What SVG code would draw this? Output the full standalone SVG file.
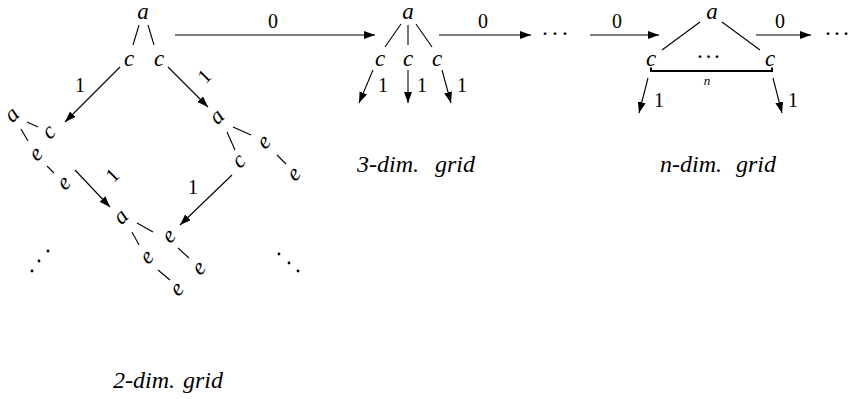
<svg xmlns="http://www.w3.org/2000/svg" width="851" height="399" viewBox="0 0 851 399" font-family="Liberation Serif, serif">
<style>
.m{font-style:italic;font-size:23px;fill:#000;text-anchor:middle}
.d{font-size:20px;fill:#000;text-anchor:middle}
.cap{font-style:italic;font-size:24px;fill:#000}
.dot{font-size:24px;fill:#000}
.sm{font-style:italic;font-size:13px;fill:#000;text-anchor:middle}
line{stroke:#000;stroke-width:1.1}
.a{marker-end:url(#ah)}
</style>
<defs>
<marker id="ah" markerUnits="userSpaceOnUse" markerWidth="12" markerHeight="9" refX="11" refY="4" orient="auto">
<path d="M0,0 L11,4 L0,8 z" fill="#000"/>
</marker>
</defs>
<g id="connectors">
<line class="a" x1="175" y1="35" x2="375" y2="35"/>
<line class="a" x1="439" y1="35" x2="531" y2="35"/>
<line class="a" x1="590" y1="35" x2="659" y2="35"/>
<line class="a" x1="756" y1="35" x2="811" y2="35"/>
<line class="a" x1="373" y1="70" x2="359" y2="103"/>
<line class="a" x1="408" y1="70" x2="408" y2="103"/>
<line class="a" x1="442" y1="70" x2="451" y2="103"/>
<line class="a" x1="648" y1="78" x2="639" y2="113"/>
<line class="a" x1="773" y1="78" x2="782" y2="113"/>
<line class="a" x1="120" y1="67" x2="65" y2="122"/>
<line class="a" x1="168" y1="67" x2="208" y2="107"/>
<line class="a" x1="75" y1="170" x2="110" y2="207"/>
<line class="a" x1="232" y1="175" x2="180" y2="225"/>
<text class="d" x="273" y="28">0</text>
<text class="d" x="483" y="28">0</text>
<text class="d" x="617" y="28">0</text>
<text class="d" x="780" y="28">0</text>
<text class="d" x="383" y="92">1</text>
<text class="d" x="422" y="92">1</text>
<text class="d" x="462" y="92">1</text>
<text class="d" x="659" y="107">1</text>
<text class="d" x="793" y="107">1</text>
<text class="d" x="80" y="92">1</text>
<text class="d" x="193" y="194">1</text>
<text class="d" transform="translate(204,76) rotate(-45)" y="7">1</text>
<text class="d" transform="translate(112,175) rotate(-45)" y="7">1</text>
</g>
<g id="grid2-root">
<text class="m" x="143" y="19">a</text>
<text class="m" x="129" y="66">c</text>
<text class="m" x="159" y="66">c</text>
<line x1="139" y1="25" x2="133" y2="45"/>
<line x1="148" y1="25" x2="154" y2="45"/>
</g>
<g id="grid2-left">
<text class="m" transform="translate(13,116) rotate(-45)" y="5">a</text>
<text class="m" transform="translate(50,133) rotate(-45)" y="5">c</text>
<text class="m" transform="translate(37,155) rotate(-45)" y="5">e</text>
<text class="m" transform="translate(65,184) rotate(-45)" y="5">e</text>
<line x1="27" y1="122" x2="38" y2="127"/>
<line x1="21" y1="129" x2="28" y2="141"/>
<line x1="47" y1="166" x2="54" y2="173"/>
</g>
<g id="grid2-right">
<text class="m" transform="translate(218,118) rotate(-45)" y="5">a</text>
<text class="m" transform="translate(265,143) rotate(-45)" y="5">e</text>
<text class="m" transform="translate(295,175) rotate(-45)" y="5">e</text>
<text class="m" transform="translate(240,162) rotate(-45)" y="5">c</text>
<line x1="233" y1="127" x2="251" y2="135"/>
<line x1="277" y1="155" x2="286" y2="164"/>
<line x1="227" y1="132" x2="235" y2="150"/>
</g>
<g id="grid2-bottom">
<text class="m" transform="translate(122,218) rotate(-45)" y="5">a</text>
<text class="m" transform="translate(170,237) rotate(-45)" y="5">e</text>
<text class="m" transform="translate(200,269) rotate(-45)" y="5">e</text>
<text class="m" transform="translate(148,258) rotate(-45)" y="5">e</text>
<text class="m" transform="translate(178,290) rotate(-45)" y="5">e</text>
<line x1="137" y1="223" x2="153" y2="232"/>
<line x1="178" y1="248" x2="189" y2="258"/>
<line x1="132" y1="232" x2="139" y2="245"/>
<line x1="158" y1="270" x2="170" y2="280"/>
</g>
<g id="grid2-dots">
<circle cx="48" cy="251" r="1.4"/>
<circle cx="39" cy="261" r="1.4"/>
<circle cx="32" cy="271" r="1.4"/>
<circle cx="279" cy="254" r="1.4"/>
<circle cx="289" cy="263" r="1.4"/>
<circle cx="298" cy="271" r="1.4"/>
</g>
<g id="grid3">
<text class="m" x="408" y="19">a</text>
<text class="m" x="380" y="66">c</text>
<text class="m" x="408" y="66">c</text>
<text class="m" x="437" y="66">c</text>
<line x1="401" y1="24" x2="385" y2="47"/>
<line x1="408" y1="25" x2="408" y2="45"/>
<line x1="416" y1="24" x2="432" y2="47"/>
</g>
<g id="dots1"><text class="dot" x="541" y="41" textLength="28" lengthAdjust="spacing">···</text></g>
<g id="gridn">
<text class="m" x="712" y="19">a</text>
<text class="m" x="651" y="66">c</text>
<text class="m" x="770" y="66">c</text>
<line x1="700" y1="22" x2="662" y2="50"/>
<line x1="722" y1="22" x2="760" y2="50"/>
<text class="dot" x="696" y="64" textLength="25" lengthAdjust="spacing">···</text>
<path d="M651,67.5 V71 H772 V67.5" fill="none" stroke="#000" stroke-width="2"/>
<text class="sm" x="707" y="85">n</text>
</g>
<g id="dots2"><text class="dot" x="824" y="41" textLength="26" lengthAdjust="spacing">···</text></g>
<g id="captions">
<text class="cap" x="357" y="172">3-dim.<tspan x="435">grid</tspan></text>
<text class="cap" x="660" y="172">n-dim.<tspan x="736">grid</tspan></text>
<text class="cap" x="113" y="388">2-dim.<tspan x="183">grid</tspan></text>
</g>
</svg>
